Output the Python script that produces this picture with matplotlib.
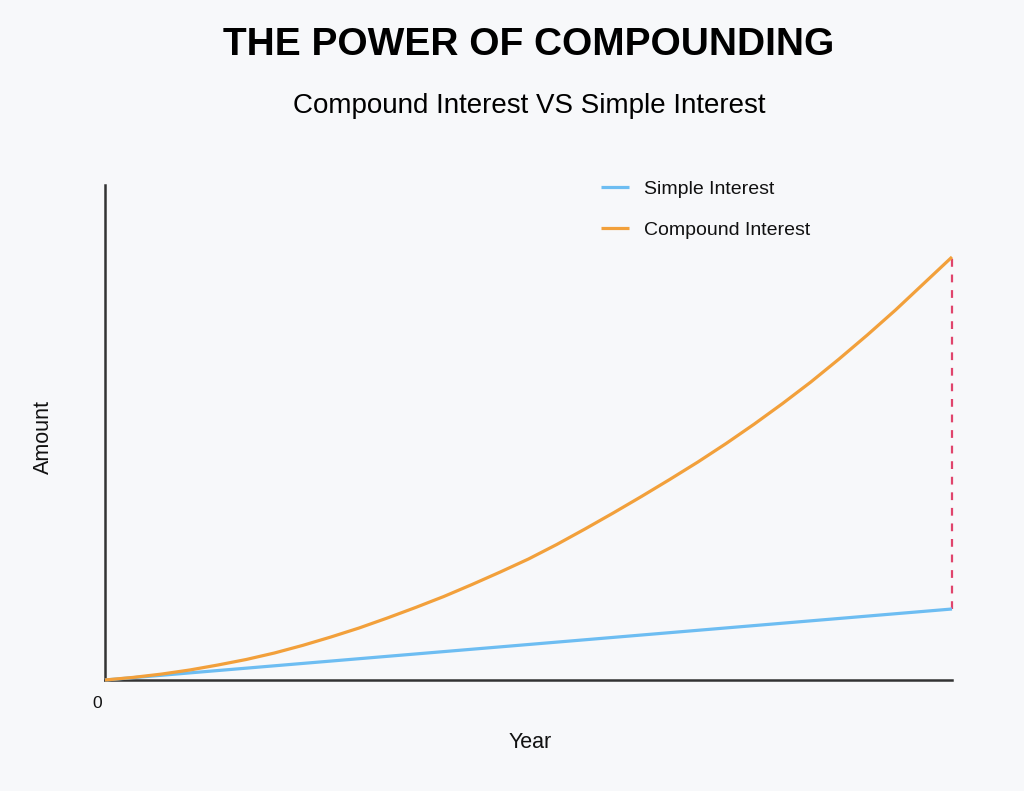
import matplotlib
matplotlib.use("Agg")
import matplotlib.pyplot as plt

plt.rcParams['font.family'] = ['Liberation Sans', 'DejaVu Sans']

years = list(range(0, 31))
simple_interest = [0, 2.37, 4.73, 7.10, 9.47, 11.83, 14.20, 16.57, 18.93, 21.30,
                   23.67, 26.03, 28.40, 30.77, 33.13, 35.50, 37.87, 40.23, 42.60,
                   44.97, 47.33, 49.70, 52.07, 54.43, 56.80, 59.17, 61.53, 63.90,
                   66.27, 68.63, 71.0]
compound_interest = [0, 2.6, 5.9, 10.0, 15.0, 20.5, 27.0, 34.6, 43.0, 52.0,
                     62.0, 72.5, 83.5, 95.5, 108.0, 121.0, 135.5, 151.0, 167.0,
                     183.5, 200.5, 218.0, 236.5, 256.0, 276.5, 298.0, 321.0,
                     345.0, 370.0, 396.5, 423.0]

title = "THE POWER OF COMPOUNDING"
subtitle = "Compound Interest VS Simple Interest"
series_labels = ["Simple Interest", "Compound Interest"]

bg = '#f7f8fa'
blue = '#6dbdf2'
orange = '#f2a03b'
red = '#e0446c'

fig = plt.figure(figsize=(10.24, 7.91), dpi=100, facecolor=bg)
ax = fig.add_axes([105/1024, 1-680/791, (952-105)/1024, (680-185)/791])
ax.set_facecolor(bg)

l1, = ax.plot(years, simple_interest, color=blue, lw=2.3, clip_on=False,
              solid_capstyle='butt', solid_joinstyle='round', zorder=3)
l2, = ax.plot(years, compound_interest, color=orange, lw=2.3, clip_on=False,
              solid_capstyle='butt', solid_joinstyle='round', zorder=4)
ax.plot([years[-1], years[-1]], [simple_interest[-1], compound_interest[-1]],
        color=red, lw=1.6, ls=(0, (3.5, 3.5)), clip_on=False, zorder=2)

ax.set_xlim(0, 30)
ax.set_ylim(0, 495)
for s in ['top', 'right']:
    ax.spines[s].set_visible(False)
for s in ['left', 'bottom']:
    ax.spines[s].set_color('#333333')
    ax.spines[s].set_linewidth(1.8)
ax.set_xticks([])
ax.set_yticks([])

fig.text(97/1024, 1-703/791, "0", ha='center', va='center', fontsize=12.5, color='#111111')
fig.text(530/1024, 1-743/791, "Year", ha='center', va='center', fontsize=15.5, color='#111111')
fig.text(43/1024, 1-437/791, "Amount", ha='center', va='center', fontsize=15.5,
         rotation=90, color='#111111')

fig.text(529/1024, 1-45/791, title, ha='center', va='center', fontsize=28,
         fontweight='bold', color='#000000')
fig.text(529/1024, 1-106/791, subtitle, ha='center', va='center', fontsize=20,
         color='#000000')

leg = fig.legend([l1, l2], series_labels, loc='upper left',
                 bbox_to_anchor=(583/1024, 1-163/791), frameon=False,
                 fontsize=14, handlelength=1.45, handletextpad=0.77,
                 labelspacing=1.2)
for t in leg.get_texts():
    t.set_color('#111111')

fig.savefig("out.png", dpi=100, facecolor=bg)
